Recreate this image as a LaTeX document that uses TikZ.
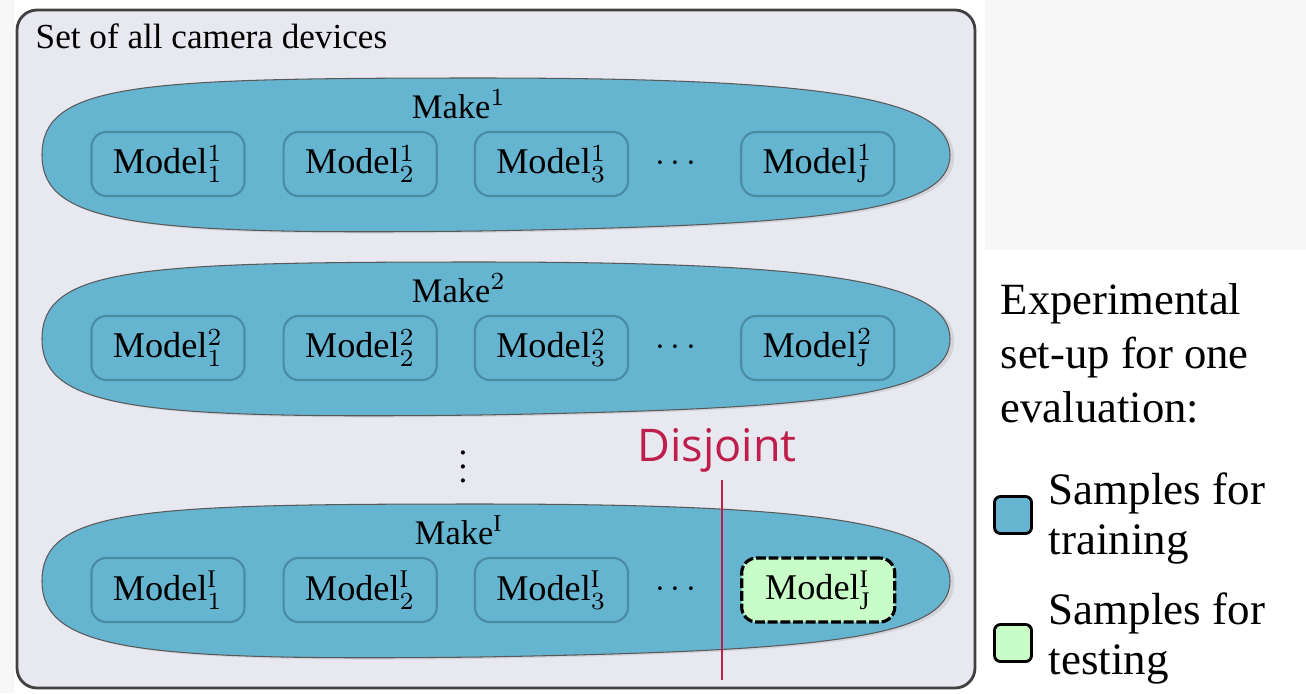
\documentclass[tikz,border=0pt]{standalone}
\usepackage{fontspec}
\setmainfont{Liberation Serif}
\newfontfamily\disjfont{Open Sans}
\usetikzlibrary{positioning,shadows}

\definecolor{setbg}{HTML}{E8E8F1}
\definecolor{makeblue}{HTML}{66B5D0}
\definecolor{modeledge}{HTML}{4A8AA3}
\definecolor{testgreen}{HTML}{C8FDC8}
\definecolor{cutred}{HTML}{BE1E4B}
\definecolor{pagegrey}{HTML}{F7F7F7}

\tikzset{
  modelbox/.style={draw=modeledge, fill=makeblue, line width=0.6pt, rounded corners=0.15cm,
    minimum width=1.53cm, minimum height=0.64cm, inner sep=0pt, font=\fontsize{10.3}{12}\selectfont},
  testbox/.style={modelbox, draw=black, fill=testgreen, line width=0.9pt, dash pattern=on 2.8pt off 0.8pt},
  makeblob/.style={fill=makeblue, draw=gray!70!black, line width=0.3pt,
    drop shadow={shadow xshift=1.2pt, shadow yshift=-0.5pt, opacity=0.2}},
  legendkey/.style={draw=black, line width=0.8pt, rounded corners=0.06cm, minimum size=0.37cm, inner sep=0pt},
  legendtext/.style={anchor=north west, inner sep=0pt, align=left, font=\fontsize{12.8}{14.2}\selectfont},
}

\begin{document}
\begin{tikzpicture}[x=0.01cm, y=-0.01cm]
  \useasboundingbox (0,0) rectangle (1306,693);
  \fill[pagegrey] (985,0) rectangle (1306,250);
  \fill[pagegrey] (0,0) rectangle (14,693);

  % set of all devices
  \draw[fill=setbg, draw=black!75, line width=0.8pt, rounded corners=0.2cm] (17,10) rectangle (975,688);
  \node[anchor=north west, inner sep=0pt, font=\fontsize{10}{12}\selectfont] (allset) at (35,23) {Set of all camera devices};

  % one blob per make
  \foreach \row/\mk/\cy/\last in {a/1/155/modelbox, b/2/339/modelbox, c/\mathrm{I}/581/testbox} {
    \draw[makeblob, shift={(0,\cy)}] (42,0) .. controls (42,-72) and (140,-77) .. (480,-77)
      .. controls (820,-77) and (950,-58) .. (950,0)
      .. controls (950,58) and (820,70) .. (480,76)
      .. controls (140,80) and (42,70) .. cycle;
    \node[font=\fontsize{9.8}{12}\selectfont] (make-\row) at (459,\cy-51) {Make$^{\mk}$};
    \node[modelbox] (\row-1) at (168,\cy+9) {Model$^{\mk}_{1}$};
    \node[modelbox, right=0.37cm of \row-1] (\row-2) {Model$^{\mk}_{2}$};
    \node[modelbox, right=0.36cm of \row-2] (\row-3) {Model$^{\mk}_{3}$};
    \node[\last, right=1.11cm of \row-3] (\row-J) {Model$^{\mk}_{\mathrm{J}}$};
    \path (\row-3) -- node[xshift=-0.09cm] (\row-dots) {$\cdots$} (\row-J);
  }
  \node (vdots) at (463,456) {$\vdots$};

  % disjoint split
  \node[font=\disjfont\fontsize{12.8}{14}\selectfont, text=cutred] (disjoint) at (717,450) {Disjoint};
  \coordinate (cut top) at (722,480);
  \coordinate (cut bottom) at (722,680);
  \draw[cutred, line width=0.8pt] (cut top) -- (cut bottom);

  % legend
  \node[legendtext, font=\fontsize{12.7}{15.3}\selectfont] (setup) at (1000,283) {Experimental\\set-up for one\\evaluation:};
  \node[legendkey, fill=makeblue] (key-train) at (1013,515) {};
  \node[legendtext] (train) at (1048,472) {Samples for\\training};
  \node[legendkey, fill=testgreen] (key-test) at (1013,643) {};
  \node[legendtext] (test) at (1048,592) {Samples for\\testing};
\end{tikzpicture}
\end{document}
